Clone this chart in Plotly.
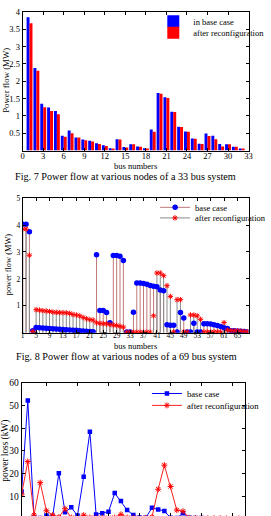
import plotly.graph_objects as go

W, H = 271, 516
FONT = "Liberation Serif"

# ---------------- data ----------------
# Fig. 7 : 33 bus system power flow (MW), branches 1..32
bus33 = list(range(1, 33))
flow33_base = [3.85, 2.38, 1.35, 1.24, 1.14, 0.43, 0.58, 0.38, 0.32, 0.28,
               0.21, 0.15, 0.07, 0.33, 0.10, 0.18, 0.12, 0.07, 0.61, 1.66,
               1.54, 1.12, 0.69, 0.55, 0.35, 0.20, 0.49, 0.43, 0.19, 0.18,
               0.11, 0.06]
flow33_after = [3.67, 2.30, 1.25, 1.14, 1.05, 0.40, 0.50, 0.38, 0.30, 0.26,
                0.19, 0.13, 0.06, 0.32, 0.09, 0.18, 0.11, 0.06, 0.54, 1.64,
                1.52, 1.11, 0.68, 0.54, 0.34, 0.19, 0.42, 0.33, 0.12, 0.18,
                0.11, 0.06]
ticks33 = list(range(0, 34, 3))

# Fig. 8 : 69 bus system power flow (MW), branches 1..68
bus69 = list(range(1, 69))
flow69_base = [4.03, 4.03, 3.75, 0.08, 0.20, 0.19, 0.18, 0.17, 0.16, 0.15,
               0.14, 0.13, 0.12, 0.11, 0.10, 0.09, 0.09, 0.08, 0.07, 0.06,
               0.05, 0.04, 2.90, 0.83, 0.83, 0.75, 0.37, 2.87, 2.87, 2.84,
               2.68, 0.03, 0.03, 0.76, 1.85, 1.85, 1.83, 1.80, 1.76, 1.73,
               1.71, 1.59, 1.56, 0.30, 0.28, 0.28, 0.03, 0.75, 0.55, 0.03,
               0.03, 0.35, 0.03, 0.03, 0.34, 0.34, 0.33, 0.30, 0.27, 0.23,
               0.19, 0.16, 0.08, 0.08, 0.07, 0.06, 0.05, 0.03]
flow69_after = [3.85, 3.85, 2.88, 0.05, 0.86, 0.84, 0.82, 0.81, 0.79, 0.77,
                0.76, 0.75, 0.75, 0.74, 0.72, 0.68, 0.66, 0.63, 0.57, 0.52,
                0.49, 0.47, 0.37, 0.35, 0.34, 0.33, 0.31, 0.29, 0.27, 0.24,
                0.21, 0.02, 0.02, 0.02, 0.02, 0.02, 0.02, 0.02, 0.02, 0.63,
                2.22, 2.22, 2.12, 1.75, 1.35, 0.03, 1.23, 1.23, 0.03, 0.03,
                0.66, 0.66, 0.63, 0.50, 0.03, 0.03, 0.03, 0.03, 0.03, 0.03,
                0.38, 0.10, 0.08, 0.07, 0.07, 0.06, 0.05, 0.03]
ticks69 = list(range(1, 66, 4))

# power loss (kW), 37 branches
branch37 = list(range(1, 38))
loss_base = [12.1, 52.2, 0.6, 0.4, 1.5, 1.0, 20.1, 3.0, 5.1, 1.5,
             18.6, 38.4, 2.0, 2.5, 3.2, 11.4, 7.9, 3.9, 1.7, 0.6,
             0.5, 4.9, 4.2, 3.5, 0.5, 0.4, 2.5, 0.5, 0.4, 0.4,
             0.3, 0.3, 0.2, 0.2, 0.2, 0.1, 0.1]
loss_after = [10.9, 25.3, 1.7, 16.0, 3.6, 1.7, 0.8, 4.5, 0.6, 0.5,
              1.7, 0.6, 0.5, 0.5, 0.5, 0.6, 2.0, 0.6, 0.5, 0.4,
              0.5, 0.8, 13.1, 23.7, 14.3, 3.9, 3.4, 0.5, 0.4, 0.4,
              0.3, 0.3, 0.3, 0.2, 0.2, 0.2, 0.1]

# ---------------- helpers ----------------
def px_x(p):
    return p / W


def px_y(p):
    return 1 - p / H


def stems(xs, ys):
    sx, sy = [], []
    for a, b in zip(xs, ys):
        sx += [a, a, None]
        sy += [0, b, None]
    return sx, sy


BLUE = "#0000ff"
RED = "#ff0000"
STEM_BASE = "#c07878"
STEM_AFTER = "#8a8a8a"

fig = go.Figure()

# ---- chart 1: bars ----
fig.add_trace(go.Bar(x=bus33, y=flow33_base, name="in base case",
                     marker=dict(color=BLUE, line=dict(width=0)),
                     xaxis="x", yaxis="y", legend="legend"))
fig.add_trace(go.Bar(x=bus33, y=flow33_after, name="after reconfiguration",
                     marker=dict(color=RED, line=dict(width=0)),
                     xaxis="x", yaxis="y", legend="legend2"))

# ---- chart 2: stems ----
sbx, sby = stems(bus69, flow69_base)
sax, say = stems(bus69, flow69_after)
fig.add_trace(go.Scatter(x=sbx, y=sby, mode="lines", line=dict(color=STEM_BASE, width=1),
                         showlegend=False, xaxis="x2", yaxis="y2", hoverinfo="skip"))
fig.add_trace(go.Scatter(x=sax, y=say, mode="lines", line=dict(color=STEM_AFTER, width=1),
                         showlegend=False, xaxis="x2", yaxis="y2", hoverinfo="skip"))
fig.add_trace(go.Scatter(x=bus69, y=flow69_base, mode="markers",
                         marker=dict(color=BLUE, size=5.5, symbol="circle"),
                         showlegend=False, xaxis="x2", yaxis="y2"))
fig.add_trace(go.Scatter(x=bus69, y=flow69_after, mode="markers",
                         marker=dict(color=RED, size=4.5, symbol="asterisk-open",
                                     line=dict(color=RED, width=1)),
                         showlegend=False, xaxis="x2", yaxis="y2"))
fig.add_trace(go.Scatter(x=[None], y=[None], mode="lines+markers", name="base case",
                         line=dict(color=STEM_BASE, width=1),
                         marker=dict(color=BLUE, size=5.5, symbol="circle"),
                         xaxis="x2", yaxis="y2", legend="legend3"))
fig.add_trace(go.Scatter(x=[None], y=[None], mode="lines+markers", name="after reconfiguration",
                         line=dict(color=STEM_AFTER, width=1),
                         marker=dict(color=RED, size=4.5, symbol="asterisk-open",
                                     line=dict(color=RED, width=1)),
                         xaxis="x2", yaxis="y2", legend="legend4"))

# ---- chart 3: loss lines ----
fig.add_trace(go.Scatter(x=branch37, y=loss_base, mode="lines+markers", name="base case",
                         line=dict(color=BLUE, width=1),
                         marker=dict(color=BLUE, size=4.5, symbol="square"),
                         xaxis="x3", yaxis="y3", legend="legend5"))
fig.add_trace(go.Scatter(x=branch37, y=loss_after, mode="lines+markers", name="after reconfiguration",
                         line=dict(color="#ff2020", width=1),
                         marker=dict(color=RED, size=5, symbol="asterisk-open",
                                     line=dict(color=RED, width=1)),
                         xaxis="x3", yaxis="y3", legend="legend6"))

# ---------------- layout ----------------
axis_common = dict(showline=True, linecolor="black", linewidth=1, mirror="ticks",
                   ticks="inside", ticklen=3, tickcolor="black", showgrid=False,
                   zeroline=False, fixedrange=True)

tick1 = dict(family=FONT, size=8.5, color="black")
tick2 = dict(family=FONT, size=7.5, color="black")
tick3 = dict(family=FONT, size=9.5, color="black")

leg_common = dict(xanchor="left", yanchor="middle", bgcolor="rgba(0,0,0,0)",
                  borderwidth=0, itemwidth=30, tracegroupgap=0)

fig.update_layout(
    width=W, height=H, margin=dict(l=0, r=0, t=0, b=0),
    paper_bgcolor="white", plot_bgcolor="white",
    barmode="group", bargap=0.14, bargroupgap=0,
    xaxis=dict(axis_common, domain=[px_x(22.7), px_x(270.5)], range=[0, 33],
               tickvals=ticks33, tickfont=tick1, anchor="y", ticklabelstandoff=-3),
    yaxis=dict(axis_common, domain=[px_y(147), px_y(7)], range=[0, 4],
               tickvals=[0.5, 1, 1.5, 2, 2.5, 3, 3.5, 4], ticktext=["0.5", "1", "1.5", "2", "2.5", "3", "3.5", "4"],
               tickfont=tick1, anchor="x"),
    xaxis2=dict(axis_common, domain=[px_x(22.7), px_x(270.5)], range=[1, 68.3],
                tickvals=ticks69, tickfont=tick2, anchor="y2", ticklabelstandoff=-5),
    yaxis2=dict(axis_common, domain=[px_y(331), px_y(195)], range=[0, 5],
                tickvals=[1, 2, 3, 4, 5], tickfont=tick2, anchor="x2"),
    xaxis3=dict(axis_common, domain=[px_x(21.5), px_x(266.7)], range=[1, 37],
                tickvals=list(range(5, 37, 5)), showticklabels=False, anchor="y3"),
    yaxis3=dict(axis_common, domain=[0, px_y(381.5)], range=[1.3, 60],
                tickvals=[10, 20, 30, 40, 50, 60], tickfont=tick3, anchor="x3"),
    legend=dict(leg_common, x=px_x(166), y=px_y(16.5), font=dict(family=FONT, size=8.5, color="black")),
    legend2=dict(leg_common, x=px_x(166), y=px_y(28), font=dict(family=FONT, size=8.5, color="black")),
    legend3=dict(leg_common, x=px_x(168), y=px_y(204.3), font=dict(family=FONT, size=8.5, color="black")),
    legend4=dict(leg_common, x=px_x(168), y=px_y(215), font=dict(family=FONT, size=8.5, color="black")),
    legend5=dict(leg_common, x=px_x(159), y=px_y(392.3), font=dict(family=FONT, size=8.7, color="black")),
    legend6=dict(leg_common, x=px_x(159), y=px_y(404.3), font=dict(family=FONT, size=8.7, color="black")),
)

annots = [
    dict(text="bus numbers", x=px_x(146.6), y=px_y(163), size=8.5, angle=0),
    dict(text="Fig. 7 Power flow at various nodes of a 33 bus system", x=px_x(135), y=px_y(173), size=10.2, angle=0),
    dict(text="Power flow (MW)", x=px_x(5), y=px_y(76), size=8.8, angle=-90),
    dict(text="bus numbers", x=px_x(147), y=px_y(344), size=8.5, angle=0),
    dict(text="Fig. 8 Power flow at various nodes of a 69 bus system", x=px_x(137), y=px_y(355), size=10.2, angle=0),
    dict(text="power flow (MW)", x=px_x(7.5), y=px_y(262), size=8.4, angle=-90),
    dict(text="power loss (kW)", x=px_x(4.5), y=px_y(450), size=9.3, angle=-90),
]
for a in annots:
    fig.add_annotation(text=a["text"], x=a["x"], y=a["y"], xref="paper", yref="paper",
                       xanchor="center", yanchor="middle", showarrow=False, textangle=a["angle"],
                       font=dict(family=FONT, size=a["size"], color="black"))

fig.write_html("out.html")
